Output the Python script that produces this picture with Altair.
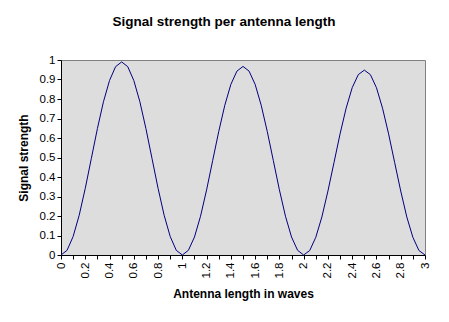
import altair as alt
import pandas as pd

# Antenna length in waves (sampled every 0.05)
length = [0.0, 0.05, 0.1, 0.15, 0.2, 0.25, 0.3, 0.35, 0.4, 0.45,
          0.5, 0.55, 0.6, 0.65, 0.7, 0.75, 0.8, 0.85, 0.9, 0.95,
          1.0, 1.05, 1.1, 1.15, 1.2, 1.25, 1.3, 1.35, 1.4, 1.45,
          1.5, 1.55, 1.6, 1.65, 1.7, 1.75, 1.8, 1.85, 1.9, 1.95,
          2.0, 2.05, 2.1, 2.15, 2.2, 2.25, 2.3, 2.35, 2.4, 2.45,
          2.5, 2.55, 2.6, 2.65, 2.7, 2.75, 2.8, 2.85, 2.9, 2.95, 3.0]

# Signal strength
strength = [0.0, 0.024, 0.095, 0.204, 0.342, 0.495, 0.648, 0.786, 0.895, 0.966,
            0.99, 0.966, 0.895, 0.786, 0.648, 0.495, 0.342, 0.204, 0.095, 0.024,
            0.0, 0.024, 0.092, 0.199, 0.334, 0.484, 0.633, 0.768, 0.875, 0.943,
            0.967, 0.943, 0.875, 0.768, 0.633, 0.484, 0.334, 0.199, 0.092, 0.024,
            0.0, 0.023, 0.091, 0.195, 0.328, 0.474, 0.621, 0.753, 0.858, 0.925,
            0.948, 0.925, 0.858, 0.753, 0.621, 0.474, 0.328, 0.195, 0.091, 0.023, 0.0]

x_ticks = [0.0, 0.1, 0.2, 0.3, 0.4, 0.5, 0.6, 0.7, 0.8, 0.9, 1.0,
           1.1, 1.2, 1.3, 1.4, 1.5, 1.6, 1.7, 1.8, 1.9, 2.0,
           2.1, 2.2, 2.3, 2.4, 2.5, 2.6, 2.7, 2.8, 2.9, 3.0]
y_ticks = [0.0, 0.1, 0.2, 0.3, 0.4, 0.5, 0.6, 0.7, 0.8, 0.9, 1.0]

df = pd.DataFrame({"length": length, "strength": strength})

FONT = "Liberation Sans"

chart = alt.Chart(df).mark_line(color="#000080", strokeWidth=1).encode(
    x=alt.X("length:Q",
            scale=alt.Scale(domain=[0, 3], nice=False, zero=False),
            axis=alt.Axis(
                title="Antenna length in waves",
                values=x_ticks,
                labelExpr="round(datum.value*10) % 2 == 0 ? format(datum.value, '.1~f') : ''",
                labelAngle=-90,
                labelOverlap=False,
                labelFlush=False,
                labelPadding=3,
                titlePadding=11,
                grid=False,
            )),
    y=alt.Y("strength:Q",
            scale=alt.Scale(domain=[0, 1], nice=False),
            axis=alt.Axis(
                title="Signal strength",
                values=y_ticks,
                format=".1~f",
                labelOverlap=False,
                labelFlush=False,
                labelPadding=2,
                titlePadding=9,
                grid=False,
            )),
).properties(
    width=364,
    height=195,
    title=alt.TitleParams("Signal strength per antenna length", fontSize=13.5,
                          fontWeight="bold", font=FONT, color="black", offset=26,
                          dx=-19),
    autosize=alt.AutoSizeParams(type="none"),
    padding={"left": 61, "top": 60, "right": 24, "bottom": 67},
    background="white",
).configure_view(
    fill="#DDDDDD", stroke="#808080", strokeWidth=1
).configure_axis(
    domainColor="black", tickColor="black", tickSize=4,
    labelColor="black", labelFont=FONT, labelFontSize=11.5,
    titleFont=FONT, titleFontSize=12, titleFontWeight="bold", titleColor="black",
)

chart.save("out.html", embed_options={"renderer": "svg", "actions": False})
